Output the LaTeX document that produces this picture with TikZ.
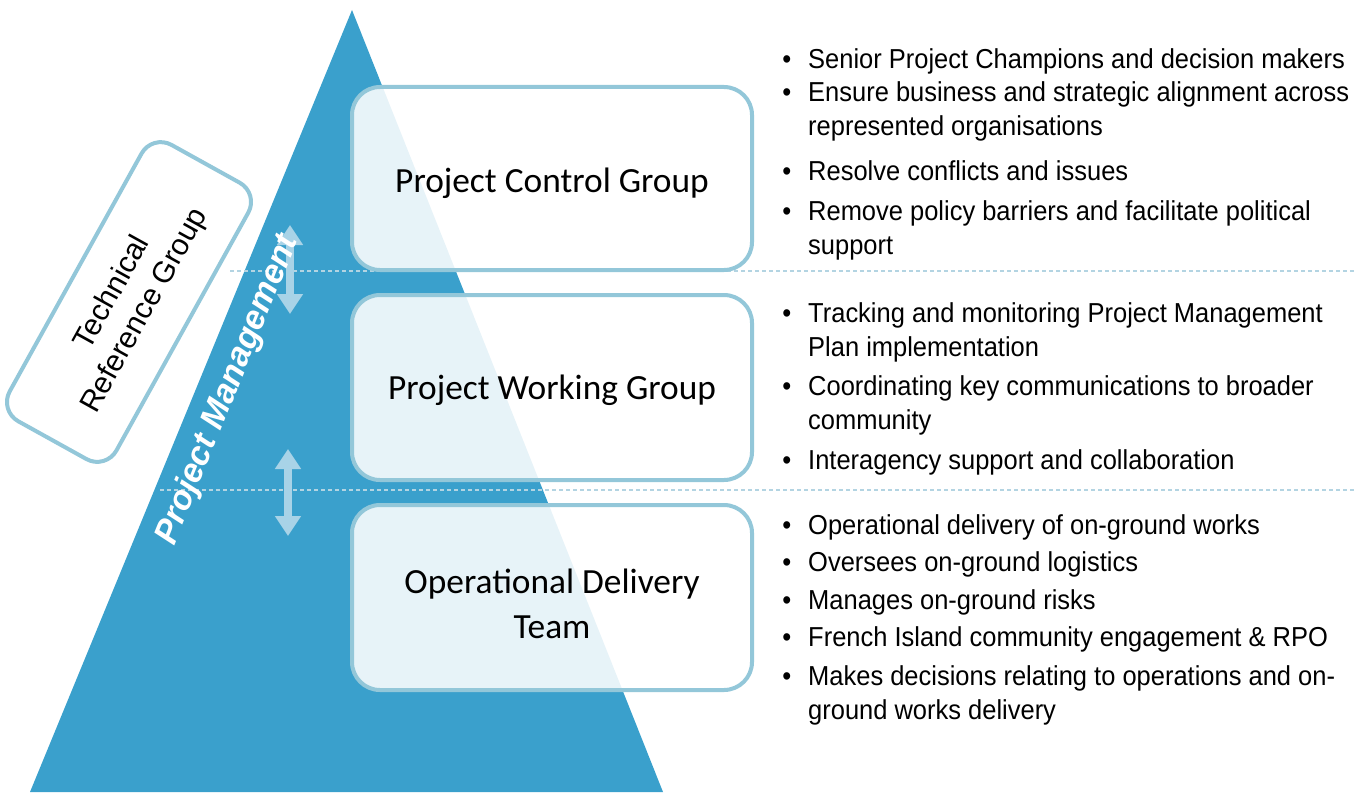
\documentclass[tikz,border=0pt]{standalone}
\usepackage{fontspec}
\setmainfont{Liberation Sans}
\newfontfamily\boxfont{Carlito}
\newfontfamily\bulfont[FakeStretch=0.93]{Liberation Sans}
\usetikzlibrary{arrows.meta}
\definecolor{tri}{HTML}{3AA0CC}
\definecolor{bordc}{HTML}{93C7D9}
\definecolor{arrc}{HTML}{A8D3E7}
\definecolor{dashc}{HTML}{B3D4E2}
\newcommand\bul{\llap{\textbullet\hspace{17bp}}}
\begin{document}
\begin{tikzpicture}[x={(1bp,0)}, y={(0,-1bp)},
  grpbox/.style={draw=bordc, line width=4bp, rounded corners=28bp, fill=white,
    fill opacity=0.88, minimum width=400bp},
  boxlabel/.style={align=center, text opacity=1, fill opacity=0,
    font=\boxfont\fontsize{35.5}{45}\selectfont},
  trgbox/.style={draw=bordc, line width=4bp, rounded corners=22bp, fill=white,
    minimum width=316bp, minimum height=122bp, align=center,
    font=\fontsize{30}{37}\selectfont},
  pmtext/.style={text=white, font=\bfseries\itshape\fontsize{34}{38}\selectfont},
  itemtxt/.style={anchor=base west, align=left, inner sep=0pt,
    font=\bulfont\fontsize{27.5}{33.5}\selectfont},
  dashline/.style={draw=dashc, line width=1.6bp, dash pattern=on 4bp off 3bp},
  dblarrow/.style={draw=arrc, line width=8bp,
    {Triangle[width=25bp,length=20bp]}-{Triangle[width=25bp,length=20bp]}}
]
\useasboundingbox (0,0) rectangle (1355,792);
% pyramid
\coordinate (apex) at (352,10);
\coordinate (bl) at (30,792);
\coordinate (br) at (663,792);
\fill[tri] (apex) -- (br) -- (bl) -- cycle;
% dashed separators
\coordinate (d1a) at (230,271);
\coordinate (d1b) at (1355,271);
\coordinate (d2a) at (160,490);
\coordinate (d2b) at (1355,490);
\draw[dashline] (d1a) -- (d1b);
\draw[dashline] (d2a) -- (d2b);
% double arrows
\coordinate (a1t) at (290,225);
\coordinate (a1b) at (290,314);
\coordinate (a2t) at (288,449);
\coordinate (a2b) at (288,536);
\draw[dblarrow] (a1t) -- (a1b);
\draw[dblarrow] (a2t) -- (a2b);
% side labels
\node[pmtext, rotate=68] (pm) at (228,390) {Project Management};
\node[trgbox, rotate=61] (trg) at (129,302) {Technical\\Reference Group};
% group boxes
\node[grpbox, minimum height=183bp,
  label={[boxlabel, yshift=-5bp]center:Project Control Group}] (pcg) at (552,178.5) {};
\node[grpbox, minimum height=185bp,
  label={[boxlabel, yshift=-3bp]center:Project Working Group}] (pwg) at (552,387.5) {};
\node[grpbox, minimum height=185bp,
  label={[boxlabel, yshift=-6bp]center:Operational Delivery\\Team}] (odt) at (552,597.5) {};
% bullet texts (anchor = baseline of the last line)
\node[itemtxt] (b11) at (808,68) {\bul Senior Project Champions and decision makers};
\node[itemtxt] (b12) at (808,135) {\bul Ensure business and strategic alignment across\\represented organisations};
\node[itemtxt] (b13) at (808,180) {\bul Resolve conflicts and issues};
\node[itemtxt] (b14) at (808,254) {\bul Remove policy barriers and facilitate political\\support};
\node[itemtxt] (b21) at (808,356) {\bul Tracking and monitoring Project Management\\Plan implementation};
\node[itemtxt] (b22) at (808,429) {\bul Coordinating key communications to broader\\community};
\node[itemtxt] (b23) at (808,469) {\bul Interagency support and collaboration};
\node[itemtxt] (b31) at (808,534) {\bul Operational delivery of on-ground works};
\node[itemtxt] (b32) at (808,571) {\bul Oversees on-ground logistics};
\node[itemtxt] (b33) at (808,609) {\bul Manages on-ground risks};
\node[itemtxt] (b34) at (808,646) {\bul French Island community engagement \& RPO};
\node[itemtxt] (b35) at (808,719) {\bul Makes decisions relating to operations and on-\\ground works delivery};
\end{tikzpicture}
\end{document}
